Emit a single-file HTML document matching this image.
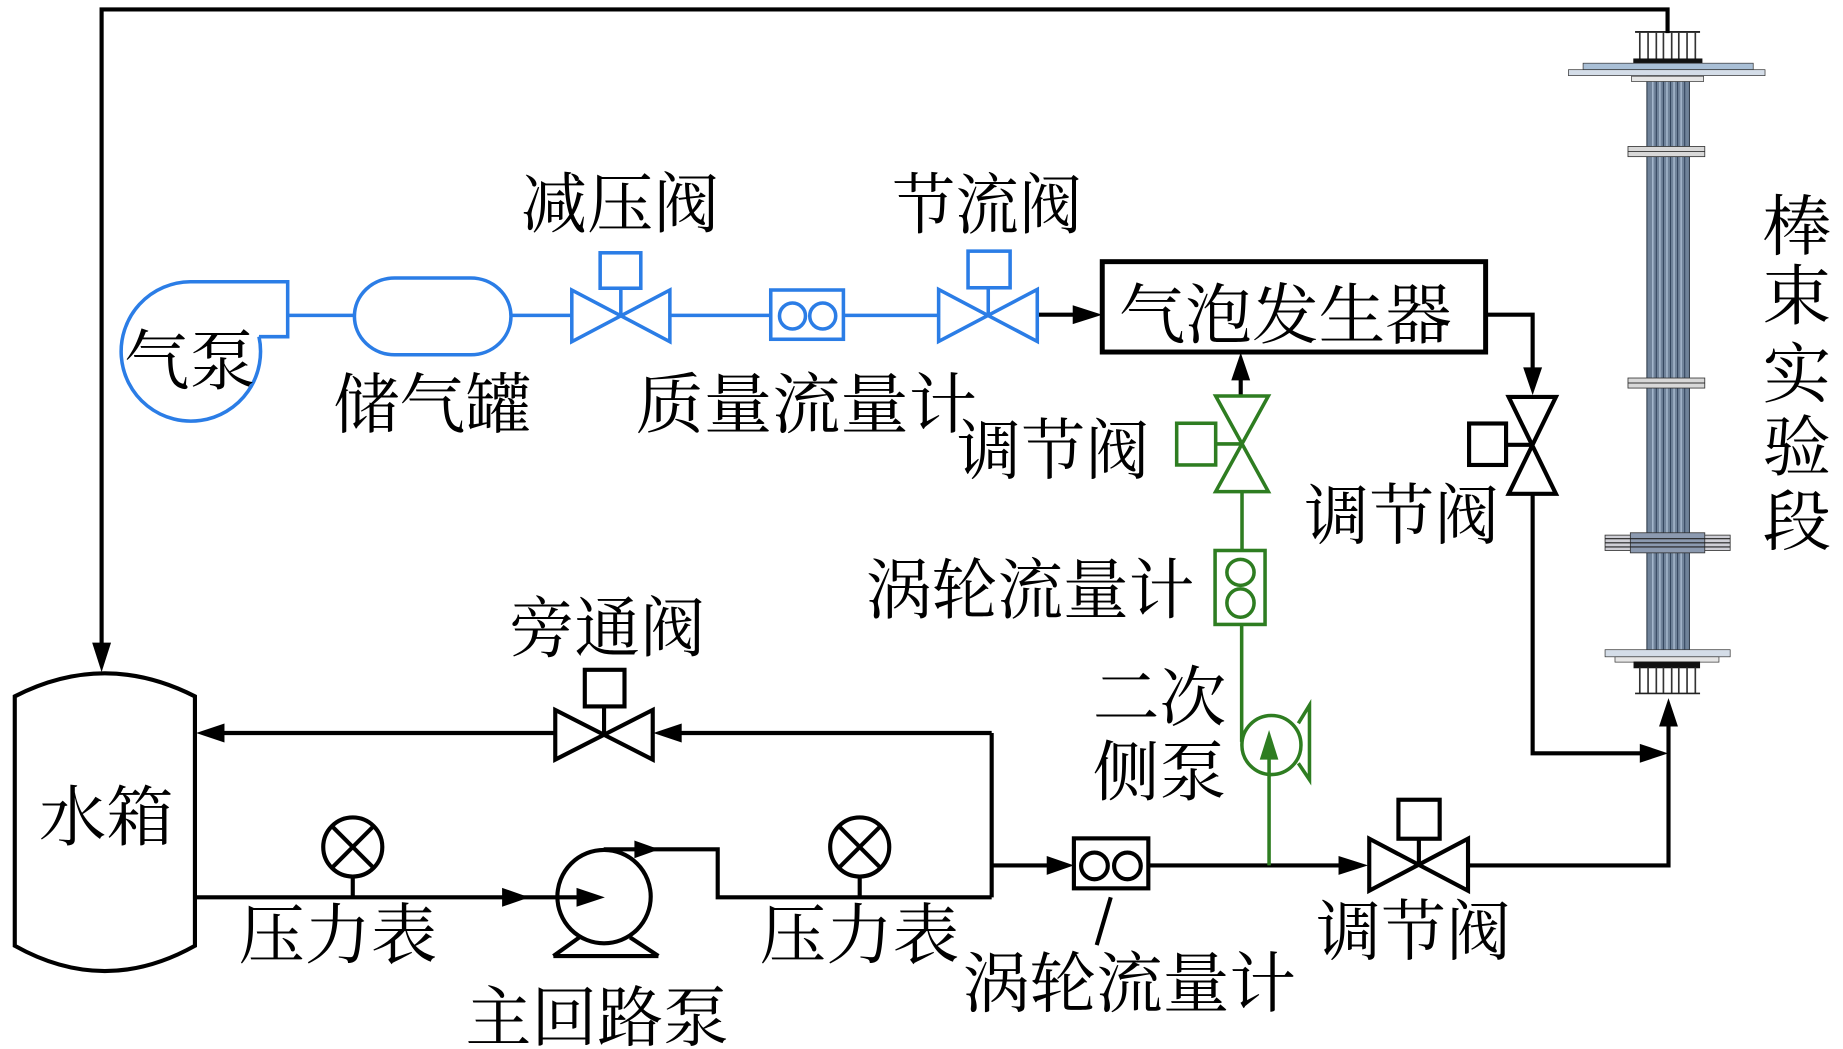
<!DOCTYPE html>
<html><head><meta charset="utf-8"><style>
html,body{margin:0;padding:0;background:#fff;}
svg{display:block;}
text{font-family:"Liberation Serif","Noto Serif CJK SC","Noto Sans CJK SC",serif;font-size:56px;fill:#000;}
</style></head><body>
<svg width="1843" height="1049" viewBox="0 0 1560 888" preserveAspectRatio="none" xmlns="http://www.w3.org/2000/svg">
<rect x="0" y="0" width="1560" height="888" fill="#fff"/>

<!-- Test section (rod bundle) -->
<g>
  <rect x="1394" y="55" width="36" height="505" fill="#70839a" stroke="#1e2a3a" stroke-width="0.8"/>
  <g stroke="#a9bbd0" stroke-width="1.2">
    <line x1="1399" y1="55" x2="1399" y2="560"/><line x1="1405" y1="55" x2="1405" y2="560"/>
    <line x1="1411" y1="55" x2="1411" y2="560"/><line x1="1417" y1="55" x2="1417" y2="560"/>
    <line x1="1423" y1="55" x2="1423" y2="560"/>
  </g>
  <g stroke="#34465e" stroke-width="0.9">
    <line x1="1402" y1="55" x2="1402" y2="560"/><line x1="1408" y1="55" x2="1408" y2="560"/>
    <line x1="1414" y1="55" x2="1414" y2="560"/><line x1="1420" y1="55" x2="1420" y2="560"/>
    <line x1="1426" y1="55" x2="1426" y2="560"/>
  </g>
  <!-- top rods -->
  <line x1="1384" y1="27" x2="1439" y2="27" stroke="#222" stroke-width="1.6"/>
  <g stroke="#333" stroke-width="1.4">
    <line x1="1388" y1="27" x2="1388" y2="50"/><line x1="1395" y1="27" x2="1395" y2="50"/>
    <line x1="1402" y1="27" x2="1402" y2="50"/><line x1="1408" y1="27" x2="1408" y2="50"/>
    <line x1="1415" y1="27" x2="1415" y2="50"/><line x1="1421" y1="27" x2="1421" y2="50"/>
    <line x1="1428" y1="27" x2="1428" y2="50"/><line x1="1435" y1="27" x2="1435" y2="50"/>
  </g>
  <rect x="1382.5" y="49.5" width="58.5" height="5.5" fill="#111"/>
  <rect x="1340" y="53.5" width="144" height="5.5" fill="#a9bfd6" stroke="#333" stroke-width="0.6"/>
  <rect x="1327.6" y="59" width="166.4" height="5" fill="#d4dde8" stroke="#333" stroke-width="0.6"/>
  <rect x="1381" y="64.5" width="61" height="4.5" fill="#e6e6e6" stroke="#333" stroke-width="0.6"/>
  <!-- intermediate flanges -->
  <rect x="1378" y="124" width="65" height="8.6" fill="#d8d8d8" stroke="#333" stroke-width="0.7"/>
  <line x1="1378" y1="128.3" x2="1443" y2="128.3" stroke="#333" stroke-width="0.8"/>
  <rect x="1378" y="320" width="65" height="8.5" fill="#d8d8d8" stroke="#333" stroke-width="0.7"/>
  <line x1="1378" y1="324.2" x2="1443" y2="324.2" stroke="#333" stroke-width="0.8"/>
  <!-- lower flange -->
  <rect x="1358.6" y="453" width="105.9" height="13" fill="#cfcfd6" stroke="#333" stroke-width="0.7"/>
  <rect x="1380" y="451" width="63" height="17" fill="#8c9ab0" stroke="#333" stroke-width="0.7"/>
  <g stroke="#222" stroke-width="1">
    <line x1="1358.6" y1="456" x2="1464.5" y2="456"/><line x1="1358.6" y1="459.5" x2="1464.5" y2="459.5"/>
    <line x1="1358.6" y1="463" x2="1464.5" y2="463"/>
  </g>
  <!-- bottom flange -->
  <rect x="1358.6" y="550" width="105.9" height="6" fill="#d4dde8" stroke="#333" stroke-width="0.6"/>
  <rect x="1367" y="556" width="88" height="4.5" fill="#e6e6e6" stroke="#333" stroke-width="0.6"/>
  <rect x="1382.7" y="560" width="56.3" height="5.7" fill="#111"/>
  <g stroke="#333" stroke-width="1.4">
    <line x1="1388" y1="565" x2="1388" y2="587"/><line x1="1395" y1="565" x2="1395" y2="587"/>
    <line x1="1402" y1="565" x2="1402" y2="587"/><line x1="1408" y1="565" x2="1408" y2="587"/>
    <line x1="1415" y1="565" x2="1415" y2="587"/><line x1="1421" y1="565" x2="1421" y2="587"/>
    <line x1="1428" y1="565" x2="1428" y2="587"/><line x1="1435" y1="565" x2="1435" y2="587"/>
  </g>
  <line x1="1384" y1="587" x2="1439" y2="587" stroke="#222" stroke-width="1.4"/>
</g>

<!-- Black piping -->
<g fill="none" stroke="#000" stroke-width="3.5">
  <polyline points="1411.5,28 1411.5,8 86,8 86,546"/>
  <path d="M12.5,589.5 Q88.7,550.5 165,589.5 L165,800.6 Q88.7,843.4 12.5,800.6 Z"/>
  <!-- bypass -->
  <line x1="839.4" y1="620.5" x2="560" y2="620.5"/>
  <line x1="470" y1="620.5" x2="185" y2="620.5"/>
  <path d="M470,601 L552.5,643 L552.5,601 L470,643 Z"/>
  <line x1="511.3" y1="598" x2="511.3" y2="621"/>
  <rect x="495" y="567" width="33.6" height="31"/>
  <!-- main line -->
  <line x1="165" y1="759.6" x2="492" y2="759.6"/>
  <line x1="298.6" y1="743" x2="298.6" y2="759.6"/>
  <circle cx="298.6" cy="717" r="25"/>
  <line x1="280.9" y1="699.3" x2="316.3" y2="734.7"/>
  <line x1="316.3" y1="699.3" x2="280.9" y2="734.7"/>
  <line x1="727.7" y1="743" x2="727.7" y2="759.6"/>
  <circle cx="727.7" cy="717" r="25"/>
  <line x1="710" y1="699.3" x2="745.4" y2="734.7"/>
  <line x1="745.4" y1="699.3" x2="710" y2="734.7"/>
  <!-- pump -->
  <circle cx="511.3" cy="759" r="39.5"/>
  <polyline points="511,719 607.5,719 607.5,759.6 839.4,759.6"/>
  <line x1="468.4" y1="809.3" x2="557.3" y2="809.3"/>
  <line x1="468.4" y1="809.3" x2="490.4" y2="793.5"/>
  <line x1="557.3" y1="809.3" x2="533.3" y2="793.5"/>
  <!-- loop right -->
  <line x1="839.4" y1="620.5" x2="839.4" y2="759.6"/>
  <line x1="839.4" y1="732.6" x2="888" y2="732.6"/>
  <rect x="909" y="709.7" width="63" height="42.3"/>
  <circle cx="926.4" cy="733" r="11.3"/>
  <circle cx="954.3" cy="733" r="11.3"/>
  <line x1="940.2" y1="759.6" x2="928.3" y2="800"/>
  <line x1="972" y1="732.6" x2="1136" y2="732.6"/>
  <path d="M1159,710 L1242.6,754 L1242.6,710 L1159,754 Z"/>
  <rect x="1183.7" y="677" width="34.9" height="33"/>
  <line x1="1201" y1="710" x2="1201" y2="732"/>
  <polyline points="1242.6,732.6 1412.3,732.6 1412.3,612"/>
  <!-- bubble generator outlet -->
  <polyline points="1257.5,266.4 1297.3,266.4 1297.3,313"/>
  <path d="M1277,336 L1317,336 L1277,418 L1317,418 Z"/>
  <rect x="1243.5" y="358.5" width="31.3" height="35.1"/>
  <line x1="1274.8" y1="376.5" x2="1297" y2="376.5"/>
  <polyline points="1297.3,418 1297.3,637.7 1390,637.7"/>
  <rect x="933" y="221.5" width="324.5" height="76.5" stroke-width="4.2"/>
  <line x1="878" y1="266.4" x2="910" y2="266.4"/>
  <line x1="1050.2" y1="335" x2="1050.2" y2="320"/>
</g>

<!-- Black arrowheads -->
<g fill="#000">
  <polygon points="86,569 78,544 94,544"/>
  <polygon points="166,620.5 190,612.5 190,628.5"/>
  <polygon points="553,620.5 577,612.5 577,628.5"/>
  <polygon points="448,759.6 425,751.6 425,767.6"/>
  <polygon points="512,759.6 488,751.6 488,767.6"/>
  <polygon points="558,719 537,711.5 537,726.5"/>
  <polygon points="909,732.6 886,724.6 886,740.6"/>
  <polygon points="1158,732.6 1133,724.6 1133,740.6"/>
  <polygon points="1412.3,591 1404.3,615 1420.3,615"/>
  <polygon points="1412,637.7 1388,629.7 1388,645.7"/>
  <polygon points="1297.3,334.5 1289.3,311 1305.3,311"/>
  <polygon points="1050.2,298.5 1042.2,322 1058.2,322"/>
  <polygon points="933,266.4 908,258.4 908,274.4"/>
</g>

<!-- Blue gas line -->
<g fill="none" stroke="#2b7de6" stroke-width="3">
  <path d="M219.2,285 L243.5,285 L243.5,238.5 L161,238.5 A59 59 0 1 0 219.2,285"/>
  <line x1="243.5" y1="267" x2="300" y2="267"/>
  <rect x="300" y="235.3" width="132.5" height="65" rx="34" ry="32.5"/>
  <line x1="432.5" y1="267" x2="484" y2="267"/>
  <path d="M484,245.5 L567,289.2 L567,245.5 L484,289.2 Z"/>
  <line x1="525.5" y1="244" x2="525.5" y2="267.4"/>
  <rect x="508" y="214" width="34.4" height="30"/>
  <line x1="567" y1="267" x2="652.4" y2="267"/>
  <rect x="652.4" y="245.5" width="61.5" height="41.7"/>
  <circle cx="670.8" cy="267.5" r="11"/>
  <circle cx="696.4" cy="267.5" r="11"/>
  <line x1="714" y1="267" x2="794.5" y2="267"/>
  <path d="M794.5,245 L878,289 L878,245 L794.5,289 Z"/>
  <line x1="836.5" y1="243.7" x2="836.5" y2="267"/>
  <rect x="819.4" y="212.6" width="35.6" height="31"/>
</g>

<!-- Green secondary line -->
<g fill="none" stroke="#2e7d21" stroke-width="3">
  <path d="M1029,335.2 L1073.6,335.2 L1029,416.2 L1073.6,416.2 Z"/>
  <rect x="996" y="358.3" width="33" height="35.3"/>
  <line x1="1029" y1="375.8" x2="1051" y2="375.8"/>
  <line x1="1051.3" y1="416" x2="1051.3" y2="466"/>
  <rect x="1028.5" y="466" width="42.3" height="62.6"/>
  <ellipse cx="1050" cy="484.5" rx="11.5" ry="11"/>
  <ellipse cx="1050" cy="510.5" rx="11.5" ry="12"/>
  <line x1="1051" y1="528.6" x2="1051" y2="628"/>
  <circle cx="1076.2" cy="630.7" r="25"/>
  <polyline points="1099,612.3 1108.4,597 1108.4,660 1099,646.1"/>
  <line x1="1074.2" y1="732.6" x2="1074.2" y2="641"/>
</g>
<polygon points="1074.2,618 1066.3,643 1082.1,643" fill="#2e7d21"/>

<!-- Labels -->
<text x="441" y="192" textLength="168" lengthAdjust="spacingAndGlyphs">减压阀</text>
<text x="755" y="193" textLength="161" lengthAdjust="spacingAndGlyphs">节流阀</text>
<text x="105" y="325" textLength="111" lengthAdjust="spacingAndGlyphs">气泵</text>
<text x="282" y="362" textLength="168" lengthAdjust="spacingAndGlyphs">储气罐</text>
<text x="538" y="362" textLength="289" lengthAdjust="spacingAndGlyphs">质量流量计</text>
<text x="947" y="286" textLength="282" lengthAdjust="spacingAndGlyphs">气泡发生器</text>
<text x="810" y="401" textLength="163" lengthAdjust="spacingAndGlyphs">调节阀</text>
<text x="1104" y="456" textLength="165" lengthAdjust="spacingAndGlyphs">调节阀</text>
<text x="1492" y="211" textLength="58" lengthAdjust="spacingAndGlyphs">棒</text>
<text x="1492" y="270" textLength="58" lengthAdjust="spacingAndGlyphs">束</text>
<text x="1492" y="336" textLength="58" lengthAdjust="spacingAndGlyphs">实</text>
<text x="1492" y="398" textLength="58" lengthAdjust="spacingAndGlyphs">验</text>
<text x="1492" y="461" textLength="58" lengthAdjust="spacingAndGlyphs">段</text>
<text x="733" y="519" textLength="278" lengthAdjust="spacingAndGlyphs">涡轮流量计</text>
<text x="431" y="551" textLength="166" lengthAdjust="spacingAndGlyphs">旁通阀</text>
<text x="925" y="610" textLength="113" lengthAdjust="spacingAndGlyphs">二次</text>
<text x="925" y="673" textLength="113" lengthAdjust="spacingAndGlyphs">侧泵</text>
<text x="33" y="711" textLength="114" lengthAdjust="spacingAndGlyphs">水箱</text>
<text x="202" y="811" textLength="168" lengthAdjust="spacingAndGlyphs">压力表</text>
<text x="643" y="811" textLength="169" lengthAdjust="spacingAndGlyphs">压力表</text>
<text x="394" y="881" textLength="223" lengthAdjust="spacingAndGlyphs">主回路泵</text>
<text x="815" y="852" textLength="282" lengthAdjust="spacingAndGlyphs">涡轮流量计</text>
<text x="1114" y="808" textLength="165" lengthAdjust="spacingAndGlyphs">调节阀</text>
</svg>
</body></html>
